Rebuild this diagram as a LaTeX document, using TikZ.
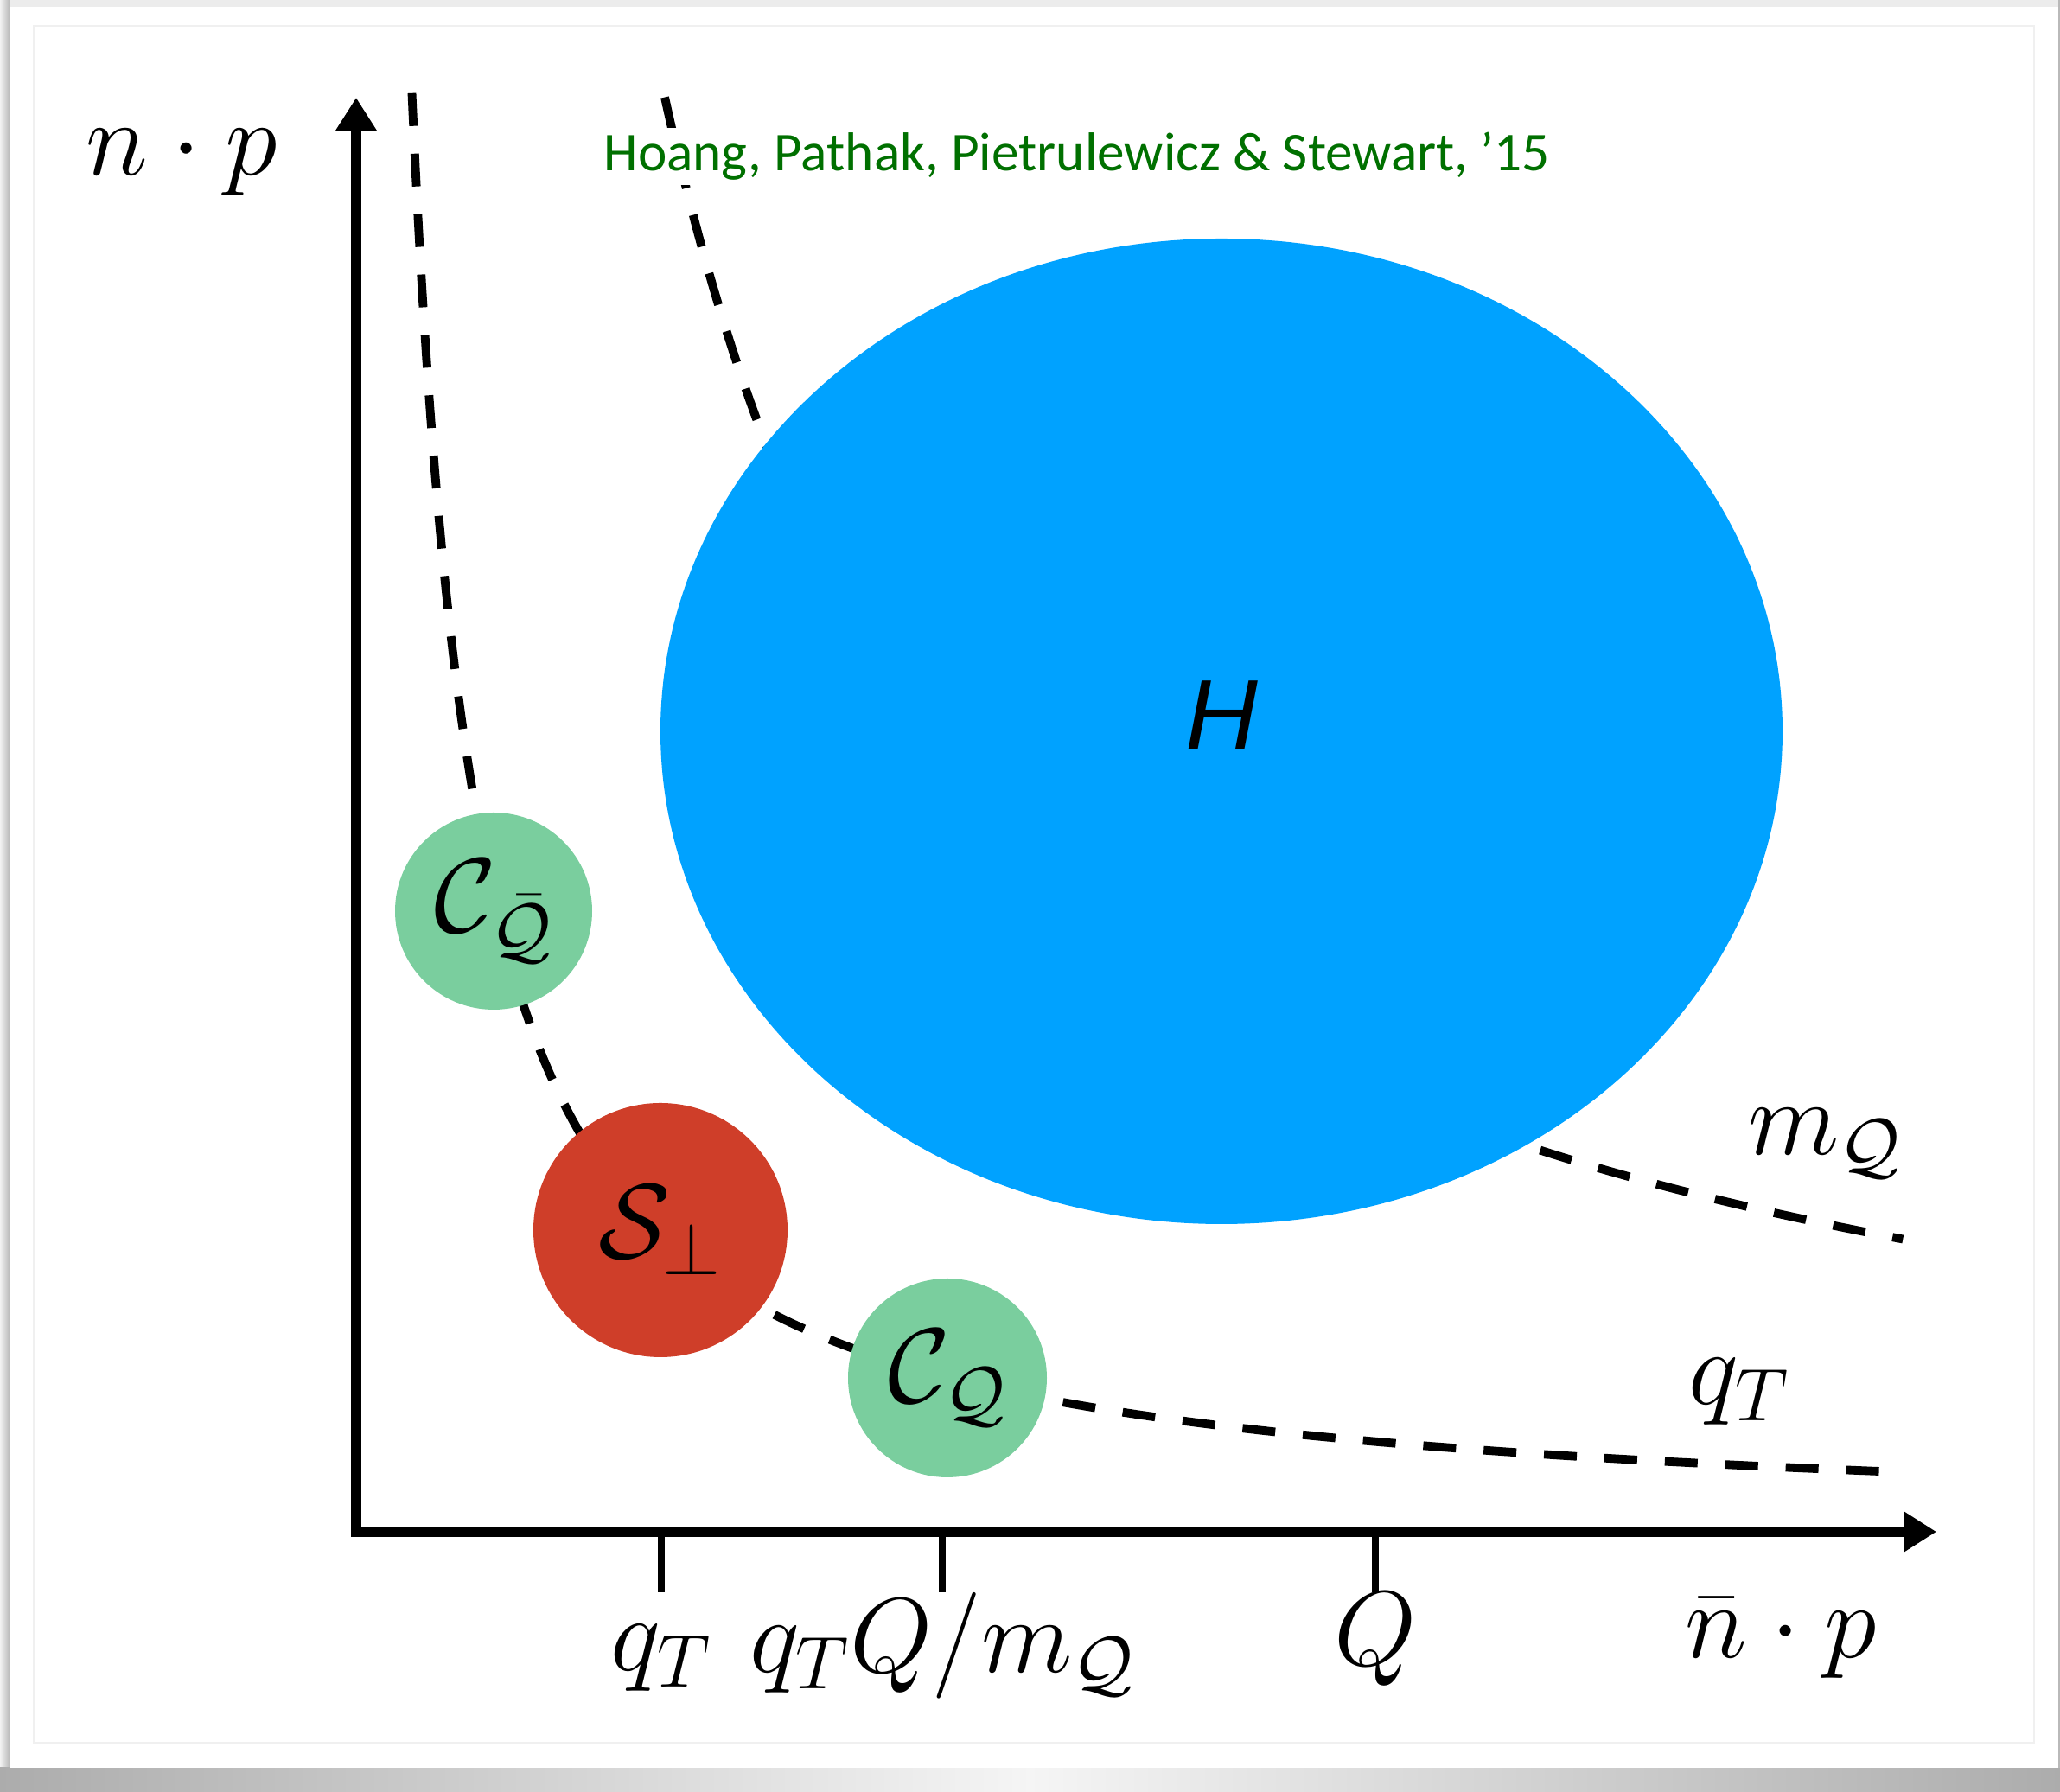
\RequirePackage{fix-cm}
\documentclass[tikz,border=0pt]{standalone}
\usepackage{amsmath,amssymb}
\usepackage{fontspec}
\newfontfamily\citefont{Carlito}
\newfontfamily\blobfont{Liberation Sans}
\usetikzlibrary{arrows.meta,shapes.geometric}
\definecolor{hardblue}{RGB}{0,162,255}
\definecolor{collgreen}{RGB}{122,206,158}
\definecolor{softred}{RGB}{207,62,41}
\definecolor{citegreen}{RGB}{0,112,0}

\begin{document}
\begin{tikzpicture}[
  axisline/.style={line width=3.6pt,{Triangle[length=0.38cm,width=0.45cm]}-{Triangle[length=0.38cm,width=0.45cm]}},
  tickline/.style={line width=2pt},
  scaleline/.style={line width=2.8pt,dash pattern=on 0.38cm off 0.32cm},
  blob/.style={circle,inner sep=0pt,font=\fontsize{35}{42}\selectfont},
  mathlabel/.style={inner sep=0pt,font=\fontsize{35}{42}\selectfont}]
\useasboundingbox (0,0) rectangle (23.83,20.73);
\fill[gray!15] (0,0) rectangle (23.83,20.73);
\shade[left color=gray!10,right color=gray!55] (0,0.28) rectangle (0.11,20.73);
\shade[left color=gray!65,right color=gray!65,middle color=gray!8] (0,0) rectangle (23.83,0.28);
\fill[gray!55] (23.81,0.28) rectangle (23.83,20.73);
\fill[white] (0.11,0.28) rectangle (23.81,20.65);
\draw[gray!12,line width=0.5pt] (0.39,0.57) rectangle (23.53,20.43);

\coordinate (ytip) at (4.12,19.60);
\coordinate (xtip) at (22.40,3.01);
\draw[axisline] (ytip) |- (xtip);
\node[mathlabel,anchor=base] (np) at (2.10,18.70) {$n\cdot p$};
\node[mathlabel,anchor=base] (nbarp) at (20.60,1.55) {$\bar{n}\cdot p$};
\foreach \t/\y/\lab [count=\i] in {7.65/1.40/{q_T},10.90/1.38/{q_TQ/m_{\mathcal{Q}}},15.91/1.46/{Q}}{
  \draw[tickline] (\t,3.01) -- (\t,2.31);
  \node[mathlabel,anchor=base] (tick\i) at (\t,\y) {$\lab$};
}

\draw[scaleline] plot[domain=-0.4385:2.877,samples=140,smooth] ({4.12+exp(\x)},{3.01+12.4/(exp(\x)+0.1)});
\draw[scaleline] plot[domain=1.2726:2.8848,samples=100,smooth] ({4.12+exp(\x)},{3.01+60.9/(exp(\x)+0.1)});
\node[mathlabel,anchor=base] (mQ) at (21.11,7.37) {$m_{\mathcal{Q}}$};
\node[mathlabel,anchor=base] (qT) at (20.12,4.48) {$q_T$};

\node[anchor=base west,fill=white,inner xsep=0.1cm,inner ysep=0.05cm,text=citegreen,font=\citefont\fontsize{18}{22}\selectfont] (cite) at (6.88,18.75) {Hoang, Pathak, Pietrulewicz \& Stewart, ’15};

\node[ellipse,fill=hardblue,inner sep=0pt,minimum width=12.98cm,minimum height=11.40cm,
  label={[yshift=0.18cm,font=\blobfont\itshape\fontsize{33}{40}\selectfont]center:H}] (hard) at (14.13,12.27) {};
\node[blob,fill=collgreen,minimum size=2.28cm] (cQbar) at (5.71,10.19) {$\mathcal{C}_{\bar{\mathcal{Q}}}$};
\node[blob,fill=softred,minimum size=2.94cm] (Sperp) at (7.64,6.50) {$\mathcal{S}_\perp$};
\node[blob,fill=collgreen,minimum size=2.30cm] (cQ) at (10.96,4.79) {$\mathcal{C}_{\mathcal{Q}}$};
\end{tikzpicture}
\end{document}
